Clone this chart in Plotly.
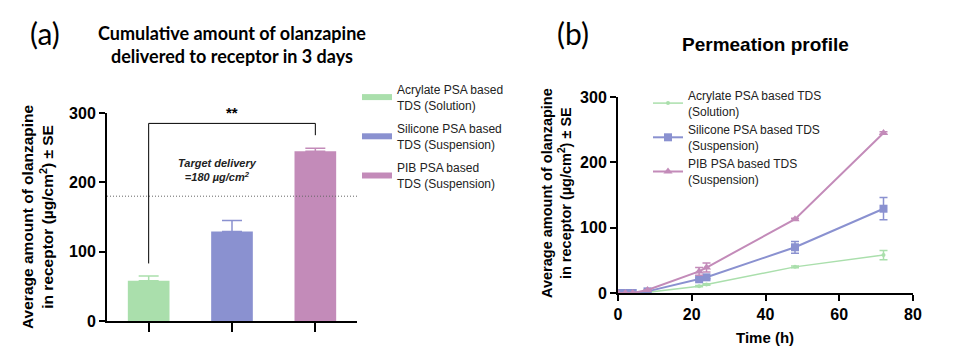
import plotly.graph_objects as go

# ---------- data ----------
groups = ["Acrylate PSA based<br>TDS (Solution)",
          "Silicone PSA based<br>TDS (Suspension)",
          "PIB PSA based<br>TDS (Suspension)"]
bar_values = [58, 129, 245]
bar_errors = [7, 16, 4]
target = 180
bracket_y = [83, 285, 285, 268]

times = [0, 2, 4, 8, 22, 24, 48, 72]
line_names = ["Acrylate PSA based TDS<br>(Solution)",
              "Silicone PSA based TDS<br>(Suspension)",
              "PIB PSA based TDS<br>(Suspension)"]
acrylate = [0, 0, 0, 1, 10.5, 13, 40, 58]
acrylate_err = [0, 0, 0, 0.3, 1, 1, 1.5, 7]
silicone = [0, 0, 0, 2.5, 21, 24, 70, 129]
silicone_err = [0, 0, 0, 0.5, 2, 2, 9, 17]
pib = [0, 0, 0, 4.5, 33, 39, 113, 245]
pib_err = [0, 0, 0, 0.5, 6, 7, 1.5, 2]

colors = ["#aadfac", "#8a91d0", "#c38bb9"]

fig = go.Figure()

# ---------- panel (a) ----------
for i in range(3):
    fig.add_trace(go.Bar(
        x=[i], y=[bar_values[i]], width=0.5,
        marker=dict(color=colors[i], line=dict(width=0)),
        error_y=dict(type="data", symmetric=False, array=[bar_errors[i]],
                     arrayminus=[0], color=colors[i], thickness=1.5, width=10),
        showlegend=False, xaxis="x", yaxis="y"))
    # legend swatch
    fig.add_trace(go.Scatter(
        x=[None], y=[None], mode="lines", name=groups[i],
        line=dict(color=colors[i], width=6), legend="legend",
        legendgroup="a%d" % i, xaxis="x", yaxis="y"))

# target line
fig.add_shape(type="line", xref="x domain", yref="y", x0=0, x1=1,
              y0=target, y1=target, line=dict(color="#666", width=1, dash="1px,2px"))
# significance bracket
fig.add_shape(type="path", xref="x", yref="y",
              path="M 0,%g L 0,%g L 2,%g L 2,%g" % tuple(bracket_y),
              line=dict(color="black", width=1))
fig.add_annotation(x=1, y=bracket_y[1], xref="x", yref="y", text="<b>**</b>",
                   showarrow=False, yanchor="bottom", yshift=0,
                   font=dict(family="Liberation Sans", size=15, color="black"))
fig.add_annotation(x=0.83, y=218, xref="x", yref="y",
                   text="<b><i>Target delivery<br>=180 µg/cm<sup>2</sup></i></b>",
                   showarrow=False,
                   font=dict(family="Liberation Sans", size=11, color="#222"))

# ---------- panel (b) ----------
series = [(acrylate, acrylate_err, "circle", 4, 1.5),
          (silicone, silicone_err, "square", 8, 2),
          (pib, pib_err, "triangle-up", 8, 2)]
for i, (vals, errs, sym, ms, lw) in enumerate(series):
    fig.add_trace(go.Scatter(
        x=times, y=vals, mode="lines+markers", name=line_names[i],
        line=dict(color=colors[i], width=lw),
        marker=dict(symbol=sym, size=ms, color=colors[i]),
        error_y=dict(type="data", array=errs, color=colors[i], thickness=1.5, width=4),
        legend="legend2", legendgroup="b%d" % i, xaxis="x2", yaxis="y2"))

# page body has an 8px margin: lay the figure out in screen pixels minus that offset
OFF = 8
W, H = 960 - OFF, 361 - OFF
def px(x): return (x - OFF) / W
def py(y): return 1 - (y - OFF) / H

axis_common = dict(showgrid=False, zeroline=False, showline=True, linecolor="black",
                   linewidth=2, ticks="outside", tickcolor="black", tickwidth=2,
                   automargin=False,
                   tickfont=dict(family="Liberation Sans", size=16, color="black",
                                 weight="bold"))

fig.update_layout(
    width=W, height=H, margin=dict(l=0, r=0, t=0, b=0, pad=0, autoexpand=False),
    paper_bgcolor="white", plot_bgcolor="white",
    barmode="overlay",
    xaxis=dict(domain=[px(107), px(357)], range=[-0.5, 2.5], tickvals=[0, 1, 2],
               showticklabels=False, ticklen=9, anchor="y", **axis_common),
    yaxis=dict(domain=[py(321), py(113)], range=[0, 300], tickvals=[0, 100, 200, 300],
               ticklen=6, anchor="x", **axis_common),
    xaxis2=dict(domain=[px(618), px(913)], range=[0, 80], tickvals=[0, 20, 40, 60, 80],
                ticklen=6, anchor="y2", **axis_common),
    yaxis2=dict(domain=[py(293), py(97)], range=[0, 300], tickvals=[0, 100, 200, 300],
                ticklen=6, anchor="x2", **axis_common),
    legend=dict(x=px(357), y=py(75), xanchor="left", yanchor="top",
                bgcolor="rgba(0,0,0,0)", tracegroupgap=5,
                font=dict(family="Liberation Sans", size=12, color="#222")),
    legend2=dict(x=px(648), y=py(81), xanchor="left", yanchor="top",
                 bgcolor="rgba(0,0,0,0)", tracegroupgap=0,
                 font=dict(family="Liberation Sans", size=12, color="#222")),
)

ann_font = dict(family="Liberation Sans", color="black")
annots = [
    dict(x=px(45), y=py(33), text="(a)", font=dict(family="Lato", size=30, color="black")),
    dict(x=px(573), y=py(33), text="(b)", font=dict(family="Lato", size=30, color="black")),
    dict(x=px(232), y=py(45),
         text="<b>Cumulative amount of olanzapine<br>delivered to receptor in 3 days</b>",
         font=dict(family="Lato", size=18, color="black")),
    dict(x=px(765), y=py(44), text="<b>Permeation profile</b>",
         font=dict(family="Liberation Sans", size=19, color="black")),
    dict(x=px(37), y=py(217), textangle=-90,
         text="<b>Average amount of olanzapine<br>in receptor (µg/cm<sup>2</sup>) ± SE</b>",
         font=dict(size=15.5, **ann_font)),
    dict(x=px(556), y=py(193), textangle=-90,
         text="<b>Average amount of olanzapine<br>in receptor (µg/cm<sup>2</sup>) ± SE</b>",
         font=dict(size=14.5, **ann_font)),
    dict(x=px(765), y=py(337), text="<b>Time (h)</b>", font=dict(size=15, **ann_font)),
]
for a in annots:
    fig.add_annotation(xref="paper", yref="paper", showarrow=False,
                       xanchor="center", yanchor="middle", **a)

fig.write_html("out.html")
